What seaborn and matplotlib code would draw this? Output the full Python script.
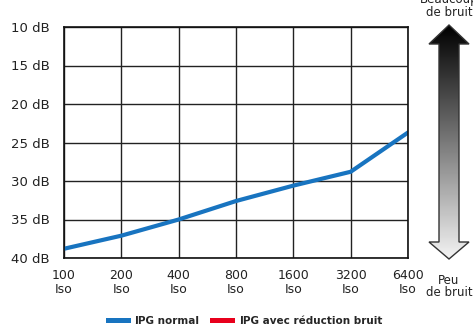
import numpy as np
import pandas as pd
import matplotlib
matplotlib.use("Agg")
import matplotlib.pyplot as plt
from matplotlib.patches import Polygon, Patch
import seaborn as sns

iso_labels = ["100", "200", "400", "800", "1600", "3200", "6400"]
noise_normal = [38.8, 37.1, 35.0, 32.6, 30.6, 28.8, 23.7]
noise_reduced = []  # no visible data for this series
y_ticks = [10, 15, 20, 25, 30, 35, 40]
series_names = ["JPG normal", "JPG avec réduction bruit"]
series_colors = ["#1874c0", "#e8001c"]

sns.set_theme(style="white")
plt.rcParams["font.family"] = ["DejaVu Sans"]

W, H = 473, 324
fig = plt.figure(figsize=(W / 100, H / 100), dpi=100)
ax = fig.add_axes([64 / W, 1 - 258 / H, (408 - 64) / W, (258 - 27) / H])

df = pd.DataFrame({"x": np.arange(len(iso_labels)), "noise": noise_normal})
sns.lineplot(data=df, x="x", y="noise", ax=ax, color=series_colors[0], lw=3.0)

ax.set_xlim(0, len(iso_labels) - 1)
ax.set_ylim(40, 10)
ax.set_xticks(np.arange(len(iso_labels)))
ax.set_xticklabels([f"{l}\nIso" for l in iso_labels], fontsize=9, color="#222222", linespacing=1.05)
ax.set_yticks(y_ticks)
ax.set_yticklabels([f"{v} dB" for v in y_ticks], fontsize=9.5, color="#222222")
ax.tick_params(axis="x", length=0, pad=8)
ax.tick_params(axis="y", length=0, pad=10)
ax.set_xlabel("")
ax.set_ylabel("")
ax.grid(True, color="#222222", lw=1.0)
for s in ax.spines.values():
    s.set_color("#111111")
    s.set_linewidth(1.2)

# gradient arrow on the right
ov = fig.add_axes([0, 0, 1, 1], zorder=-1)
ov.axis("off")
cx = 449
sw, hw = 10, 20
top, hb1, hb2, bot = 25, 44, 242, 259
pts = [(cx, top), (cx + hw, hb1), (cx + sw, hb1), (cx + sw, hb2), (cx + hw, hb2),
       (cx, bot), (cx - hw, hb2), (cx - sw, hb2), (cx - sw, hb1), (cx - hw, hb1)]
poly = Polygon(pts, closed=True, facecolor="none", edgecolor="none")
ov.add_patch(poly)
grad = np.linspace(0, 1, 256).reshape(-1, 1)
im = ov.imshow(grad, cmap="gray", extent=[cx - hw, cx + hw, bot, top], aspect="auto",
               vmin=0, vmax=1.05, origin="upper")
im.set_clip_path(poly)
ov.add_patch(Polygon(pts, closed=True, facecolor="none", edgecolor="#333333", lw=1.0))
ov.set_xlim(0, W)
ov.set_ylim(H, 0)

fig.text(cx / W, 1 - 0 / H, "Beaucoup", ha="center", va="center", fontsize=8.5, color="#222222")
fig.text(cx / W, 1 - 12 / H, "de bruit", ha="center", va="center", fontsize=8.5, color="#222222")
fig.text(cx / W, 1 - 280 / H, "Peu", ha="center", va="center", fontsize=8.5, color="#222222")
fig.text(cx / W, 1 - 293 / H, "de bruit", ha="center", va="center", fontsize=8.5, color="#222222")

handles = [Patch(facecolor=c, edgecolor="none") for c in series_colors]
fig.legend(handles, series_names, loc="center", bbox_to_anchor=(0.516, 1 - 321 / H),
           ncol=2, frameon=False, handlelength=2.4, handleheight=0.4,
           columnspacing=1.0, handletextpad=0.4, prop={"weight": "bold", "size": 7.5})

fig.savefig("out.png", dpi=100)
